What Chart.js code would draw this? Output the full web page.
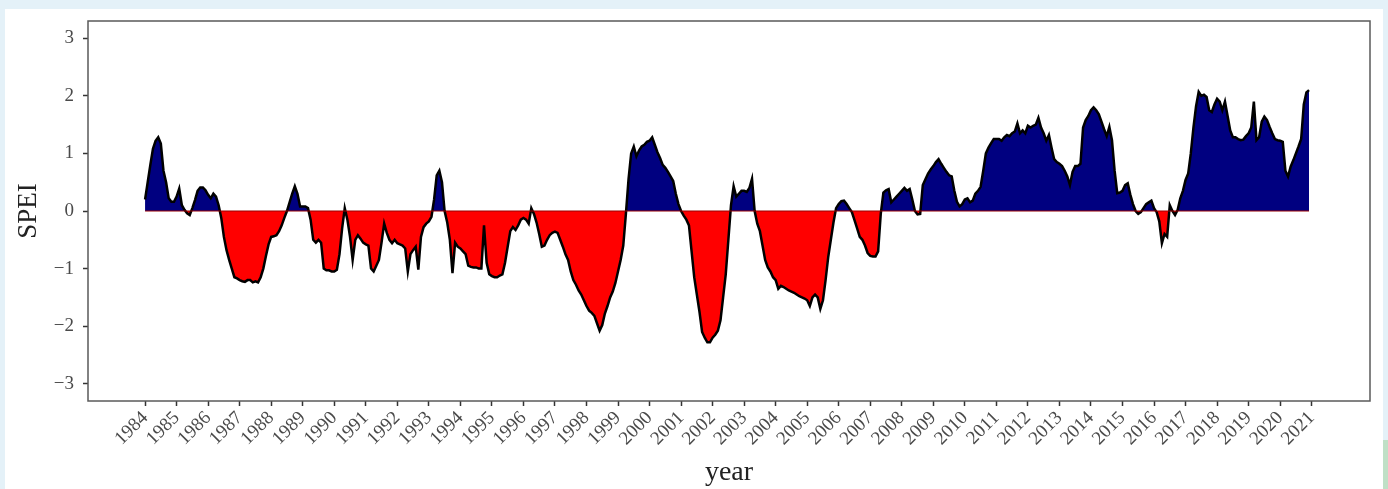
<!DOCTYPE html>
<html>
<head>
<meta charset="utf-8">
<script src="https://cdn.jsdelivr.net/npm/chart.js@4.4.1/dist/chart.umd.min.js"></script>
<style>
  html, body { margin: 0; padding: 0; background: #e4f1f8; }
  #wrap { position: relative; width: 1388px; height: 489px; overflow: hidden; }
  #card { position: absolute; left: 5px; top: 9px; width: 1378px; height: 490px; background: #fff; }
  #green { position: absolute; left: 1383px; top: 440px; width: 5px; height: 49px; background: #bfe0c6; }
  #chart { position: absolute; left: 0; top: 0; }
</style>
</head>
<body>
<div id="wrap">
  <div id="card"></div>
  <div id="green"></div>
  <canvas id="chart" width="1388" height="489"></canvas>
</div>
<script>
// Monthly SPEI values, Jan..Dec
const spei1984 = [0.2, 0.5, 0.8, 1.08, 1.22, 1.28, 1.17, 0.7, 0.5, 0.22, 0.16, 0.16];
const spei1985 = [0.25, 0.39, 0.1, 0.02, -0.04, -0.07, 0.05, 0.19, 0.35, 0.41, 0.41, 0.36];
const spei1986 = [0.28, 0.22, 0.3, 0.25, 0.1, -0.12, -0.45, -0.68, -0.85, -1.0, -1.15, -1.17];
const spei1987 = [-1.2, -1.22, -1.23, -1.2, -1.2, -1.24, -1.22, -1.24, -1.15, -1.0, -0.78, -0.58];
const spei1988 = [-0.45, -0.44, -0.42, -0.35, -0.25, -0.12, 0.0, 0.15, 0.3, 0.43, 0.3, 0.08];
const spei1989 = [0.08, 0.08, 0.05, -0.15, -0.5, -0.55, -0.5, -0.55, -1.0, -1.03, -1.03, -1.05];
const spei1990 = [-1.05, -1.02, -0.75, -0.3, 0.05, -0.15, -0.45, -0.85, -0.5, -0.42, -0.48, -0.55];
const spei1991 = [-0.58, -0.6, -1.0, -1.05, -0.95, -0.85, -0.55, -0.22, -0.38, -0.5, -0.56, -0.5];
const spei1992 = [-0.56, -0.58, -0.6, -0.65, -1.05, -0.75, -0.68, -0.62, -1.02, -0.45, -0.28, -0.22];
const spei1993 = [-0.18, -0.1, 0.2, 0.62, 0.7, 0.5, 0.0, -0.2, -0.5, -1.08, -0.55, -0.62];
const spei1994 = [-0.65, -0.7, -0.75, -0.95, -0.97, -0.98, -0.98, -1.0, -1.0, -0.25, -0.9, -1.1];
const spei1995 = [-1.13, -1.15, -1.15, -1.12, -1.1, -0.9, -0.62, -0.35, -0.28, -0.33, -0.25, -0.15];
const spei1996 = [-0.12, -0.15, -0.22, 0.05, -0.05, -0.2, -0.4, -0.62, -0.6, -0.5, -0.42, -0.38];
const spei1997 = [-0.36, -0.38, -0.5, -0.62, -0.75, -0.85, -1.05, -1.2, -1.28, -1.38, -1.45, -1.55];
const spei1998 = [-1.65, -1.73, -1.77, -1.82, -1.95, -2.08, -1.98, -1.78, -1.65, -1.5, -1.4, -1.25];
const spei1999 = [-1.05, -0.85, -0.6, -0.05, 0.55, 1.0, 1.12, 0.95, 1.05, 1.12, 1.15, 1.2];
const spei2000 = [1.22, 1.28, 1.15, 1.02, 0.92, 0.8, 0.75, 0.68, 0.6, 0.52, 0.3, 0.12];
const spei2001 = [0.0, -0.08, -0.15, -0.25, -0.7, -1.15, -1.45, -1.75, -2.1, -2.2, -2.28, -2.28];
const spei2002 = [-2.2, -2.15, -2.08, -1.9, -1.5, -1.1, -0.5, 0.1, 0.43, 0.25, 0.3, 0.35];
const spei2003 = [0.35, 0.33, 0.4, 0.56, 0.0, -0.22, -0.35, -0.6, -0.85, -0.98, -1.05, -1.15];
const spei2004 = [-1.2, -1.35, -1.3, -1.32, -1.35, -1.38, -1.4, -1.42, -1.45, -1.48, -1.5, -1.52];
const spei2005 = [-1.55, -1.65, -1.5, -1.45, -1.5, -1.7, -1.55, -1.2, -0.8, -0.5, -0.2, 0.05];
const spei2006 = [0.12, 0.17, 0.18, 0.12, 0.05, -0.02, -0.16, -0.3, -0.45, -0.5, -0.6, -0.73];
const spei2007 = [-0.78, -0.79, -0.79, -0.7, -0.05, 0.32, 0.36, 0.38, 0.15, 0.2, 0.25, 0.3];
const spei2008 = [0.35, 0.4, 0.35, 0.38, 0.2, 0.0, -0.06, -0.05, 0.45, 0.55, 0.65, 0.72];
const spei2009 = [0.78, 0.85, 0.9, 0.82, 0.75, 0.68, 0.62, 0.6, 0.35, 0.16, 0.08, 0.12];
const spei2010 = [0.2, 0.22, 0.15, 0.18, 0.3, 0.35, 0.42, 0.7, 1.0, 1.1, 1.18, 1.25];
const spei2011 = [1.25, 1.25, 1.22, 1.28, 1.32, 1.3, 1.35, 1.38, 1.52, 1.35, 1.4, 1.35];
const spei2012 = [1.48, 1.45, 1.48, 1.5, 1.62, 1.45, 1.35, 1.22, 1.32, 1.1, 0.9, 0.85];
const spei2013 = [0.82, 0.78, 0.7, 0.6, 0.45, 0.68, 0.78, 0.78, 0.82, 1.45, 1.58, 1.65];
const spei2014 = [1.75, 1.8, 1.75, 1.68, 1.55, 1.42, 1.3, 1.46, 1.23, 0.7, 0.31, 0.32];
const spei2015 = [0.35, 0.45, 0.48, 0.28, 0.12, 0.0, -0.05, -0.02, 0.05, 0.12, 0.15, 0.18];
const spei2016 = [0.05, -0.02, -0.18, -0.56, -0.4, -0.45, 0.1, 0.0, -0.07, 0.02, 0.22, 0.35];
const spei2017 = [0.54, 0.65, 1.0, 1.45, 1.82, 2.07, 2.0, 2.02, 1.98, 1.75, 1.72, 1.85];
const spei2018 = [1.95, 1.9, 1.75, 1.9, 1.65, 1.4, 1.28, 1.28, 1.25, 1.23, 1.24, 1.3];
const spei2019 = [1.35, 1.45, 1.9, 1.23, 1.28, 1.55, 1.64, 1.58, 1.46, 1.35, 1.25, 1.23];
const spei2020 = [1.22, 1.2, 0.7, 0.6, 0.77, 0.88, 1.0, 1.12, 1.25, 1.85, 2.06, 2.1];

const yearSeries = [
  spei1984, spei1985, spei1986, spei1987, spei1988, spei1989, spei1990, spei1991,
  spei1992, spei1993, spei1994, spei1995, spei1996, spei1997, spei1998, spei1999,
  spei2000, spei2001, spei2002, spei2003, spei2004, spei2005, spei2006, spei2007,
  spei2008, spei2009, spei2010, spei2011, spei2012, spei2013, spei2014, spei2015,
  spei2016, spei2017, spei2018, spei2019, spei2020
];
const firstYear = 1984;

// tick labels
const yearTicks = [];
for (let y = 1984; y <= 2021; y++) yearTicks.push(y);
const speiTicks = [-3, -2, -1, 0, 1, 2, 3];

// build monthly points (x = fractional year)
const points = [];
yearSeries.forEach((vals, yi) => {
  vals.forEach((v, m) => points.push({ x: firstYear + yi + m / 12, y: v }));
});
const zeroLine = [
  { x: points[0].x, y: 0 },
  { x: points[points.length - 1].x, y: 0 }
];

const serif = "'Liberation Serif', 'Times New Roman', serif";

// draw full box around plot area like matplotlib spines
const frameBox = {
  id: 'frameBox',
  afterDatasetsDraw(chart) {
    const { ctx, chartArea: a } = chart;
    ctx.save();
    ctx.strokeStyle = '#5a5a5a';
    ctx.lineWidth = 1.5;
    ctx.strokeRect(a.left, a.top, a.right - a.left, a.bottom - a.top);
    ctx.restore();
  }
};

new Chart(document.getElementById('chart'), {
  type: 'line',
  data: {
    datasets: [
      {
        data: zeroLine,
        borderColor: '#9a0000',
        borderWidth: 1,
        pointRadius: 0,
        fill: false
      },
      {
        data: points,
        borderColor: '#000',
        borderWidth: 2.5,
        pointRadius: 0,
        tension: 0,
        fill: { target: 'origin', above: '#000080', below: '#ff0000' }
      }
    ]
  },
  options: {
    responsive: false,
    devicePixelRatio: 1,
    animation: false,
    events: [],
    layout: { padding: { top: 21, right: 18, left: 0, bottom: 0 } },
    plugins: {
      legend: { display: false },
      tooltip: { enabled: false }
    },
    scales: {
      x: {
        type: 'linear',
        min: 1982.19,
        max: 2022.85,
        afterBuildTicks: (scale) => { scale.ticks = yearTicks.map(v => ({ value: v })); },
        afterFit: (scale) => { scale.height = 88; },
        border: { display: false },
        grid: { drawOnChartArea: false, drawTicks: true, tickLength: 5, tickColor: '#333', tickWidth: 1.5 },
        ticks: {
          autoSkip: false,
          minRotation: 45,
          maxRotation: 45,
          padding: 1,
          color: '#4a4a4a',
          font: { family: serif, size: 19 },
          callback: (v) => String(v)
        },
        title: {
          display: true,
          text: 'year',
          color: '#222',
          font: { family: serif, size: 28 },
          padding: { top: 0, bottom: 0 }
        }
      },
      y: {
        min: -3.3,
        max: 3.3,
        afterBuildTicks: (scale) => { scale.ticks = speiTicks.map(v => ({ value: v })); },
        afterFit: (scale) => { scale.width = 88; },
        border: { display: false },
        grid: { drawOnChartArea: false, drawTicks: true, tickLength: 5, tickColor: '#333', tickWidth: 1.5 },
        ticks: {
          padding: 9,
          color: '#4a4a4a',
          font: { family: serif, size: 19 },
          callback: (v) => (v < 0 ? '\u2212' + Math.abs(v) : String(v))
        },
        title: {
          display: true,
          text: 'SPEI',
          color: '#222',
          font: { family: serif, size: 27 },
          padding: { top: 13, bottom: 0 }
        }
      }
    }
  },
  plugins: [frameBox]
});
</script>
</body>
</html>
